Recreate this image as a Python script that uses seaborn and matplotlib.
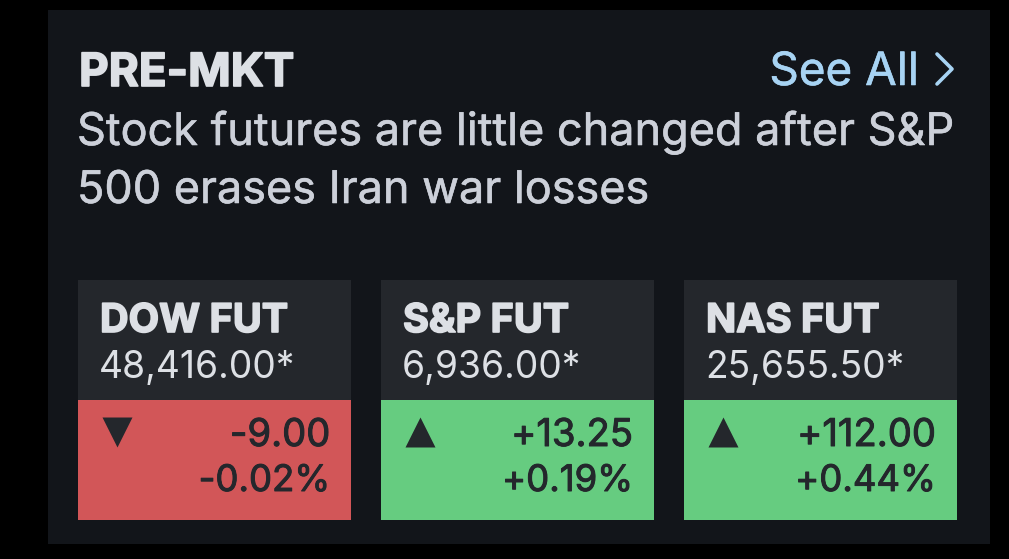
import matplotlib
matplotlib.use('Agg')
import matplotlib.pyplot as plt
import matplotlib.patheffects as pe
from matplotlib.lines import Line2D
import seaborn as sns

W, H = 1009, 559

title = 'PRE-MKT'
link = 'See All'
headline = ['Stock futures are little changed after S&P', '500 erases Iran war losses']
names = ['DOW FUT', 'S&P FUT', 'NAS FUT']
prices = ['48,416.00*', '6,936.00*', '25,655.50*']
changes = [-9.00, 13.25, 112.00]
pcts = [-0.02, 0.19, 0.44]

sns.set_theme(style='dark')
plt.rcParams['font.family'] = ['Inter', 'DejaVu Sans']

RED = '#d25658'
GREEN = '#66cc80'
INK = '#24272c'
card_lefts = [78, 381, 684]


# pixel box -> figure axes
def box_ax(fig, x0, y0, x1, y1, color):
    ax = fig.add_axes([x0 / W, 1 - y1 / H, (x1 - x0) / W, (y1 - y0) / H], facecolor=color)
    ax.set(xticks=[], yticks=[])
    sns.despine(ax=ax, left=True, bottom=True)
    return ax


# thicken adds a thin outline, Inter has no weight as heavy as the reference
def put(fig, x, y, s, thicken=0, **kw):
    t = fig.text(x / W, 1 - y / H, s, va='baseline', **kw)
    if thicken:
        t.set_path_effects([pe.withStroke(linewidth=thicken, foreground=kw['color'])])


fig = plt.figure(figsize=(W / 100, H / 100), dpi=100, facecolor='black')
box_ax(fig, 48, 10, 990, 544, '#12151a')

put(fig, 79, 86, title, thicken=1.2, size=33, weight='bold', color='#dde0e5')
put(fig, 919, 85, link, thicken=0.4, size=33, ha='right', color='#a7d3f3')
fig.add_artist(Line2D([937 / W, 952 / W, 937 / W], [1 - 54 / H, 1 - 69 / H, 1 - 84 / H],
                      color='#a7d3f3', lw=2.6))
put(fig, 77, 145, headline[0], thicken=0.4, size=32.4, color='#ccd0d9')
put(fig, 77, 203, headline[1], thicken=0.4, size=32.4, color='#ccd0d9')

for left, name, price, chg, pct in zip(card_lefts, names, prices, changes, pcts):
    box_ax(fig, left, 280, left + 273, 400, INK)
    ax = box_ax(fig, left, 400, left + 273, 520, INK)
    sns.heatmap([[pct]], ax=ax, cmap=[RED, GREEN], center=0, vmin=-1, vmax=1, cbar=False,
                xticklabels=False, yticklabels=False)
    ax.scatter([0.143], [0.73], s=466, marker='v' if chg < 0 else '^', color=INK, linewidths=0,
               transform=ax.transAxes, clip_on=False)

    put(fig, left + 22, 332, name, thicken=1.2, size=28.5, weight='bold', color='#dde0e5')
    put(fig, left + 21, 378, price, size=26.8, color='#dde0e5')
    put(fig, left + 252, 446, f'{chg:+.2f}', thicken=0.7, size=27.5, ha='right', color=INK)
    put(fig, left + 252, 491, f'{pct:+.2f}%', thicken=0.7, size=26.3, ha='right', color=INK)

fig.savefig('out.png', dpi=100, facecolor='black')
